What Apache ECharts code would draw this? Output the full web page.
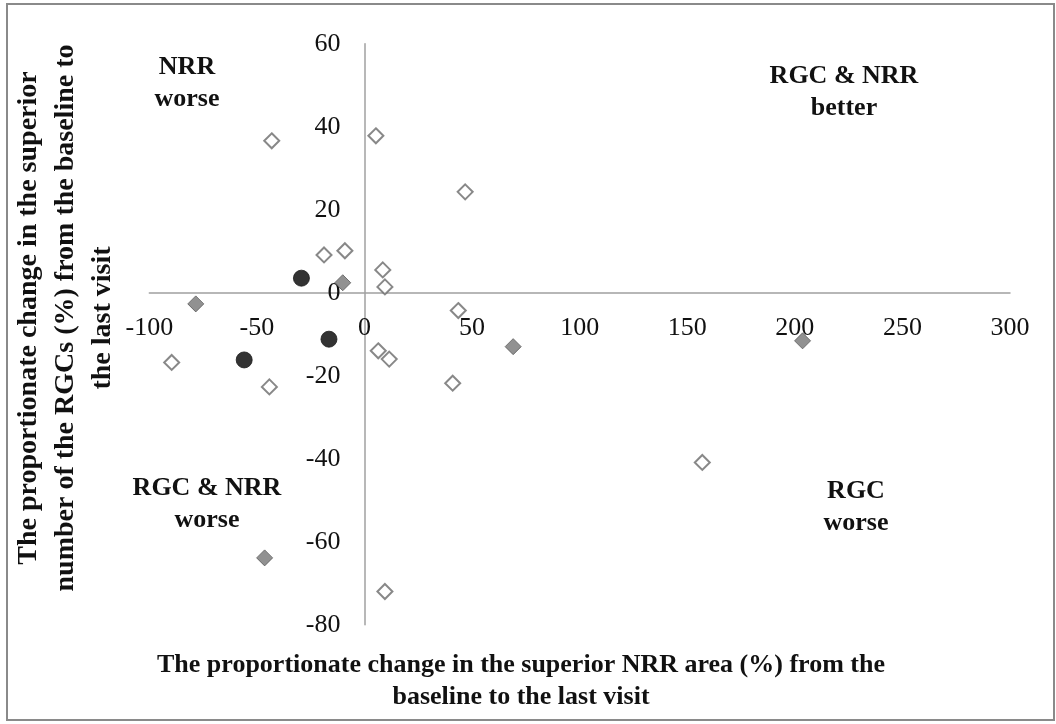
<!DOCTYPE html>
<html>
<head>
<meta charset="utf-8">
<script src="https://cdn.jsdelivr.net/npm/echarts@6/dist/echarts.min.js"></script>
<style>
  html, body { margin: 0; padding: 0; background: #fff; }
  #chart { width: 1056px; height: 724px; }
</style>
</head>
<body>
<div id="chart"></div>
<script>
// Proportionate change (%) of superior NRR area (x) vs superior RGC count (y)
const openX   = [-43.1, 5.3, 46.8, -18.8, -9.1, 8.5, 9.5, 43.6, -89.6, -44.2, 6.4, 11.5, 41.0, 157.0, 9.5];
const openY   = [36.6, 37.8, 24.3, 9.1, 10.1, 5.5, 1.4, -4.3, -16.8, -22.7, -14.0, -16.0, -21.8, -40.9, -72.0];
const filledX = [-78.4, -10.1, 69.1, 203.6, -46.4];
const filledY = [-2.7, 2.4, -13.0, -11.6, -63.9];
const circleX = [-29.3, -16.5, -55.9];
const circleY = [3.5, -11.2, -16.2];

const xTicks = [-100, -50, 0, 50, 100, 150, 200, 250, 300];
const yTicks = [-80, -60, -40, -20, 0, 20, 40, 60];

const quadrantLabels = [
  { lines: ['NRR', 'worse'], x: 187, y: 67 },
  { lines: ['RGC & NRR', 'better'], x: 844, y: 76 },
  { lines: ['RGC & NRR', 'worse'], x: 207, y: 488 },
  { lines: ['RGC', 'worse'], x: 856, y: 491 }
];
const xTitle = ['The proportionate change in the superior NRR area (%) from the', 'baseline to the last visit'];
const yTitle = ['The proportionate change in the superior', 'number of the RGCs (%) from the baseline to', 'the last visit'];

const zip = (xs, ys) => xs.map((v, i) => [v, ys[i]]);
const serif = 'Liberation Serif, Times New Roman, serif';

// plot box in pixels
const G = { left: 149.3, right: 1010, top: 43.7, bottom: 624.7 };
const W = 1056, H = 724;
const xMin = xTicks[0], xMax = xTicks[xTicks.length - 1];
const yMin = yTicks[0], yMax = yTicks[yTicks.length - 1];
// axes cross at zero: shift each axis from the grid edge onto the zero line
const zeroXpx = G.left + (0 - xMin) / (xMax - xMin) * (G.right - G.left);
const zeroYpx = G.bottom - (0 - yMin) / (yMax - yMin) * (G.bottom - G.top);

const graphics = [
  { type: 'rect', shape: { x: 7, y: 4, width: 1047, height: 716 },
    style: { fill: 'none', stroke: '#8a8a8a', lineWidth: 2 }, silent: true }
];
quadrantLabels.forEach(q => {
  q.lines.forEach((t, i) => {
    graphics.push({ type: 'text', x: q.x, y: q.y + i * 32,
      style: { text: t, font: 'bold 26px ' + serif, fill: '#111', textAlign: 'center', textVerticalAlign: 'middle' } });
  });
});
xTitle.forEach((t, i) => {
  graphics.push({ type: 'text', x: 521, y: 665 + i * 32,
    style: { text: t, font: 'bold 26px ' + serif, fill: '#111', textAlign: 'center', textVerticalAlign: 'middle' } });
});
yTitle.forEach((t, i) => {
  graphics.push({ type: 'text', x: 29 + i * 37, y: 318, rotation: Math.PI / 2,
    style: { text: t, font: 'bold 28px ' + serif, fill: '#111', textAlign: 'center', textVerticalAlign: 'middle' } });
});

const chart = echarts.init(document.getElementById('chart'));
chart.setOption({
  animation: false,
  backgroundColor: '#fff',
  grid: { left: G.left, right: W - G.right, top: G.top, bottom: H - G.bottom, containLabel: false },
  xAxis: {
    type: 'value', min: xMin, max: xMax, interval: 50,
    position: 'bottom', offset: -(G.bottom - zeroYpx),
    axisLine: { onZero: false, lineStyle: { color: '#a0a0a0', width: 1.5 } },
    axisTick: { show: false },
    splitLine: { show: false },
    axisLabel: { margin: 22, color: '#111', fontFamily: serif, fontSize: 26, showMinLabel: true, showMaxLabel: true }
  },
  yAxis: {
    type: 'value', min: yMin, max: yMax, interval: 20,
    position: 'left', offset: -(zeroXpx - G.left),
    axisLine: { show: true, onZero: false, lineStyle: { color: '#a0a0a0', width: 1.5 } },
    axisTick: { show: false },
    splitLine: { show: false },
    axisLabel: { margin: 24, color: '#111', fontFamily: serif, fontSize: 26, showMinLabel: true, showMaxLabel: true }
  },
  series: [
    { name: 'open', type: 'scatter', data: zip(openX, openY), symbol: 'diamond', symbolSize: 15,
      itemStyle: { color: '#fff', borderColor: '#6a6a6a', borderWidth: 2 } },
    { name: 'filled', type: 'scatter', data: zip(filledX, filledY), symbol: 'diamond', symbolSize: 16,
      itemStyle: { color: '#767676', borderColor: '#5a5a5a', borderWidth: 1 } },
    { name: 'circle', type: 'scatter', data: zip(circleX, circleY), symbol: 'circle', symbolSize: 16,
      itemStyle: { color: '#000', borderColor: '#1a1a1a', borderWidth: 1 } }
  ],
  graphic: graphics
});
</script>
</body>
</html>
